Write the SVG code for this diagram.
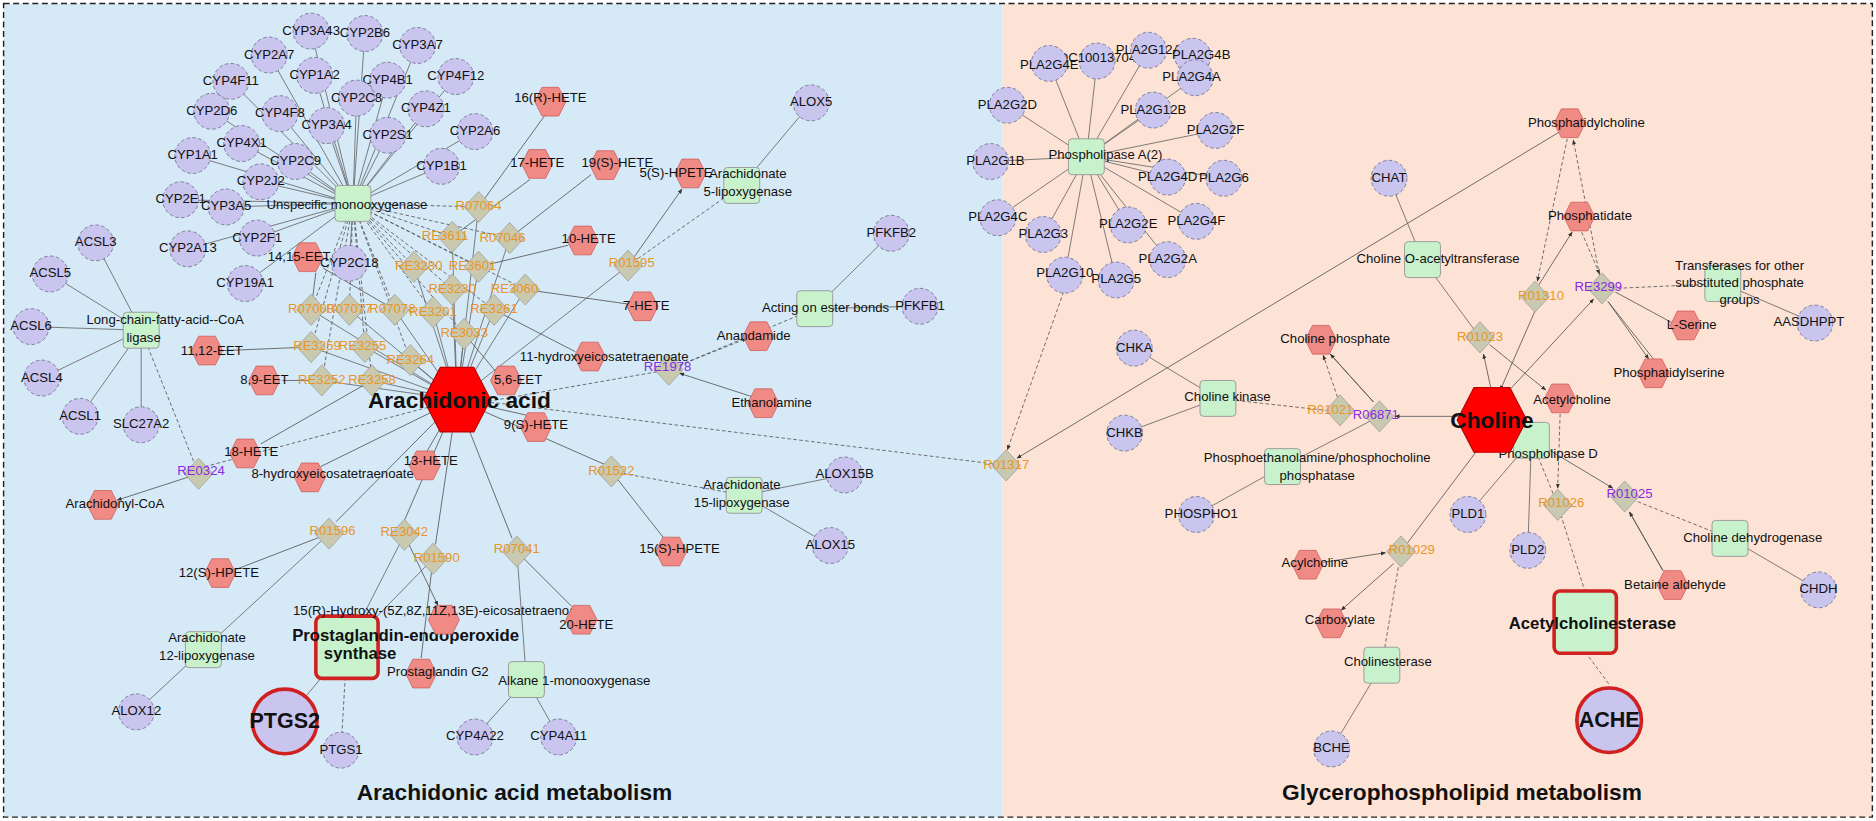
<svg xmlns="http://www.w3.org/2000/svg" width="1876" height="821" viewBox="0 0 1876 821">
<style>
text{font-family:"Liberation Sans",Arial,sans-serif;font-size:11px;fill:#111;text-anchor:middle;dominant-baseline:middle}
.g{fill:#c9c5ee;stroke:#7a7a99;stroke-width:0.8;stroke-dasharray:3 2}
.e{fill:#c8f2cc;stroke:#9a9a9a;stroke-width:0.8}
.d{fill:#c9c9b0;stroke:#999;stroke-width:0.6}
.h{fill:#ef8a84;stroke:#c55;stroke-width:0.6}
.o{fill:#e8962a}
.p{fill:#8a2be2}
.b{font-weight:bold}
.l{stroke:#666;stroke-width:0.7;fill:none}
.a{stroke:#555;stroke-width:0.7;fill:none;marker-end:url(#ar)}
.s{stroke:#555;stroke-width:0.7;stroke-dasharray:3 2;fill:none}
.sa{stroke:#555;stroke-width:0.7;stroke-dasharray:3 2;fill:none;marker-end:url(#ar)}
</style>
<defs>
<marker id="ar" viewBox="0 0 10 10" refX="9" refY="5" markerWidth="6" markerHeight="6" orient="auto"><path d="M0,1L10,5L0,9z" fill="#333"/></marker>
<polygon id="hx" points="-7,-12 7,-12 13,0 7,12 -7,12 -13,0" class="h"/>
<polygon id="dm" points="0,-13 12,0 0,13 -12,0" class="d"/>
<rect id="sq" x="-15" y="-15" width="30" height="30" rx="3" class="e"/>
<circle id="ci" r="15" class="g"/>
</defs>
<g transform="scale(1.1964)">
<rect x="3" y="3" width="835" height="680" fill="#d5e9f7"/>
<rect x="838" y="3" width="727" height="680" fill="#fde3d5"/>
<rect x="3" y="3" width="1562" height="680" fill="none" stroke="#222" stroke-width="1.2" stroke-dasharray="5 3"/>
<text class="b" x="430" y="664" style="font-size:19px">Arachidonic acid metabolism</text>
<text class="b" x="1222" y="664" style="font-size:19px">Glycerophospholipid metabolism</text>

<g id="connectors">
<path class="l" d="M295,170L260,26M295,170L305,28M295,170L349,38M295,170L225,46M295,170L263,63M295,170L193,68M295,170L324,67M295,170L381,64M295,170L298,82M295,170L177,93M295,170L234,95M295,170L356,91M295,170L273,105M295,170L324,113M295,170L397,110M295,170L202,120M295,170L161,130M295,170L247,135M295,170L369,139M295,170L218,152M295,170L151,167M295,170L189,173M295,170L215,199M295,170L157,208M295,170L292,220M295,170L205,237"/>
<path class="s" d="M295,170L400,173M295,170L378,198M295,170L426,199M295,170L346,223M295,170L400,223M295,170L378,242M295,170L439,242M295,170L260,259M295,170L292,259M295,170L330,259M295,170L362,261M295,170L413,259M295,170L388,279M295,170L260,290M295,170L305,290M295,170L343,301M295,170L269,318M295,170L311,318"/>
<path class="l" d="M118,276L80,203M118,276L42,229M118,276L26,273M118,276L35,316M118,276L67,348M118,276L118,355"/>
<path class="s" d="M118,276L166,396"/>
<path class="l" d="M382,334L400,173M382,334L378,198M382,334L426,199M382,334L346,223M382,334L400,223M382,334L378,242M382,334L439,242M382,334L260,259M382,334L292,259M382,334L330,259M382,334L362,261M382,334L413,259M382,334L388,279M382,334L260,290M382,334L305,290M382,334L343,301M382,334L269,318M382,334L311,318M382,334L525,222"/>
<path class="a" d="M400,173L455,97M378,198L443,150M426,199L494,146M400,223L475,205M439,242L524,254M413,259L481,294M388,279L414,310M260,259L264,228M330,259L270,224M260,290L188,293M269,318L236,318M311,318L218,371M382,334L268,390M382,334L357,377M382,334L440,347M525,222L570,158"/>
<path class="s" d="M525,222L620,155"/><path class="l" d="M620,155L678,86"/>
<path class="a" d="M382,334L505,388M511,394L555,450M382,334L281,436M275,446L197,476M382,334L338,435M382,334L364,455M362,467L352,550M382,334L428,450M432,461L478,507M338,447L366,506"/>
<path class="s" d="M511,394L622,414"/><path class="l" d="M622,414L706,397M622,414L694,456M275,446L170,543M170,543L114,595M338,447L290,541M362,467L290,541M290,541L238,603M440,568L432,461M440,568L397,616M440,568L467,616"/><path class="s" d="M290,541L285,627"/>
<path class="sa" d="M382,334L160,393"/><path class="a" d="M166,396L98,418"/>
<path class="sa" d="M559,309L624,283"/><path class="a" d="M630,332L568,312"/><path class="s" d="M559,309L405,336M681,258L559,309"/>
<path class="l" d="M681,258L745,195M681,258L769,256"/>
<path class="s" d="M400,335L841,389"/>
<path class="sa" d="M889,244L842,376"/><path class="a" d="M1304,110L850,383"/>
<path class="l" d="M908,131L877,53M908,131L917,51M908,131L960,42M908,131L999,65M908,131L842,88M908,131L964,92M908,131L1016,109M908,131L828,135M908,131L976,148M908,131L1023,149M908,131L834,182M908,131L872,196M908,131L943,188M908,131L1000,185M908,131L976,217M908,131L890,230M908,131L933,234"/>
<path class="l" d="M1161,149L1189,217M1189,217L1237,282M948,291L1018,333M940,362L1018,333M1072,390L1000,430M1072,390L1153,348M1280,368L1227,430M1280,368L1277,460M1446,450L1520,493M1440,237L1517,270M1155,556L1113,626"/>
<path class="sa" d="M1310,116L1285,235"/><path class="a" d="M1285,240L1314,194"/><path class="sa" d="M1322,194L1337,229"/><path class="sa" d="M1337,230L1315,117"/>
<path class="a" d="M1283,260L1254,326"/><path class="a" d="M1258,330L1332,250"/><path class="a" d="M1398,270L1350,244M1382,300L1344,252M1344,252L1378,300"/><path class="s" d="M1440,237L1351,241"/>
<path class="a" d="M1246,324L1240,296"/><path class="a" d="M1245,288L1292,326"/>
<path class="s" d="M1018,333L1108,343"/><path class="sa" d="M1118,332L1106,297"/><path class="a" d="M1110,294L1148,336M1148,336L1112,296"/><path class="a" d="M1222,348L1166,348"/>
<path class="sa" d="M1304,346L1302,408"/><path class="s" d="M1280,368L1302,422M1325,495L1302,422"/>
<path class="a" d="M1268,360L1348,408"/><path class="a" d="M1362,428L1390,477M1390,477L1362,428"/><path class="s" d="M1446,450L1358,415"/>
<path class="a" d="M1171,461L1238,372"/><path class="a" d="M1106,470L1158,462"/><path class="a" d="M1165,471L1121,510"/><path class="s" d="M1155,556L1171,461"/>
<path class="s" d="M1325,545L1345,572"/>
</g>

<g id="genes-left">
<g><use href="#ci" x="260" y="26"/><text x="260" y="26">CYP3A43</text></g>
<g><use href="#ci" x="305" y="28"/><text x="305" y="28">CYP2B6</text></g>
<g><use href="#ci" x="349" y="38"/><text x="349" y="38">CYP3A7</text></g>
<g><use href="#ci" x="225" y="46"/><text x="225" y="46">CYP2A7</text></g>
<g><use href="#ci" x="263" y="63"/><text x="263" y="63">CYP1A2</text></g>
<g><use href="#ci" x="193" y="68"/><text x="193" y="68">CYP4F11</text></g>
<g><use href="#ci" x="324" y="67"/><text x="324" y="67">CYP4B1</text></g>
<g><use href="#ci" x="381" y="64"/><text x="381" y="64">CYP4F12</text></g>
<g><use href="#ci" x="298" y="82"/><text x="298" y="82">CYP2C8</text></g>
<g><use href="#ci" x="177" y="93"/><text x="177" y="93">CYP2D6</text></g>
<g><use href="#ci" x="234" y="95"/><text x="234" y="95">CYP4F8</text></g>
<g><use href="#ci" x="356" y="91"/><text x="356" y="91">CYP4Z1</text></g>
<g><use href="#ci" x="273" y="105"/><text x="273" y="105">CYP3A4</text></g>
<g><use href="#ci" x="324" y="113"/><text x="324" y="113">CYP2S1</text></g>
<g><use href="#ci" x="397" y="110"/><text x="397" y="110">CYP2A6</text></g>
<g><use href="#ci" x="202" y="120"/><text x="202" y="120">CYP4X1</text></g>
<g><use href="#ci" x="161" y="130"/><text x="161" y="130">CYP1A1</text></g>
<g><use href="#ci" x="247" y="135"/><text x="247" y="135">CYP2C9</text></g>
<g><use href="#ci" x="369" y="139"/><text x="369" y="139">CYP1B1</text></g>
<g><use href="#ci" x="218" y="152"/><text x="218" y="152">CYP2J2</text></g>
<g><use href="#ci" x="151" y="167"/><text x="151" y="167">CYP2E1</text></g>
<g><use href="#ci" x="189" y="173"/><text x="189" y="173">CYP3A5</text></g>
<g><use href="#ci" x="215" y="199"/><text x="215" y="199">CYP2F1</text></g>
<g><use href="#ci" x="157" y="208"/><text x="157" y="208">CYP2A13</text></g>
<g><use href="#ci" x="292" y="220"/><text x="292" y="220">CYP2C18</text></g>
<g><use href="#ci" x="205" y="237"/><text x="205" y="237">CYP19A1</text></g>
<g><use href="#ci" x="80" y="203"/><text x="80" y="203">ACSL3</text></g>
<g><use href="#ci" x="42" y="229"/><text x="42" y="229">ACSL5</text></g>
<g><use href="#ci" x="26" y="273"/><text x="26" y="273">ACSL6</text></g>
<g><use href="#ci" x="35" y="316"/><text x="35" y="316">ACSL4</text></g>
<g><use href="#ci" x="67" y="348"/><text x="67" y="348">ACSL1</text></g>
<g><use href="#ci" x="118" y="355"/><text x="118" y="355">SLC27A2</text></g>
<g><use href="#ci" x="678" y="86"/><text x="678" y="86">ALOX5</text></g>
<g><use href="#ci" x="745" y="195"/><text x="745" y="195">PFKFB2</text></g>
<g><use href="#ci" x="769" y="256"/><text x="769" y="256">PFKFB1</text></g>
<g><use href="#ci" x="706" y="397"/><text x="706" y="397">ALOX15B</text></g>
<g><use href="#ci" x="694" y="456"/><text x="694" y="456">ALOX15</text></g>
<g><use href="#ci" x="114" y="595"/><text x="114" y="595">ALOX12</text></g>
<g><use href="#ci" x="285" y="627"/><text x="285" y="627">PTGS1</text></g>
<g><use href="#ci" x="397" y="616"/><text x="397" y="616">CYP4A22</text></g>
<g><use href="#ci" x="467" y="616"/><text x="467" y="616">CYP4A11</text></g>
<g id="PTGS2"><circle cx="238" cy="603" r="27" fill="#c9c5ee" stroke="#d02020" stroke-width="3"/><text class="b" x="238" y="604" style="font-size:18px">PTGS2</text></g>
</g>

<g id="enzymes-left">
<g><use href="#sq" x="295" y="170"/><text x="290" y="172">Unspecific monooxygenase</text></g>
<g><use href="#sq" x="118" y="276"/><text x="138" y="268">Long-chain-fatty-acid--CoA</text><text x="120" y="283">ligase</text></g>
<g><use href="#sq" x="620" y="155"/><text x="625" y="146">Arachidonate</text><text x="625" y="161">5-lipoxygenase</text></g>
<g><use href="#sq" x="681" y="258"/><text x="690" y="258">Acting on ester bonds</text></g>
<g><use href="#sq" x="622" y="414"/><text x="620" y="406">Arachidonate</text><text x="620" y="421">15-lipoxygenase</text></g>
<g><use href="#sq" x="170" y="543"/><text x="173" y="534">Arachidonate</text><text x="173" y="549">12-lipoxygenase</text></g>
<g><use href="#sq" x="440" y="568"/><text x="480" y="570">Alkane 1-monooxygenase</text></g>
<g id="PGS"><rect x="264" y="515" width="52" height="52" rx="5" fill="#c8f2cc" stroke="#d02020" stroke-width="3"/><text class="b" x="339" y="532" style="font-size:14px">Prostaglandin-endoperoxide</text><text class="b" x="301" y="547" style="font-size:14px">synthase</text></g>
</g>

<g id="reactions-left">
<g><use href="#dm" x="400" y="173"/><text class="o" x="400" y="173">R07064</text></g>
<g><use href="#dm" x="378" y="198"/><text class="o" x="372" y="198">RE3611</text></g>
<g><use href="#dm" x="426" y="199"/><text class="o" x="420" y="199">R07046</text></g>
<g><use href="#dm" x="346" y="223"/><text class="o" x="350" y="223">RE3280</text></g>
<g><use href="#dm" x="400" y="223"/><text class="o" x="395" y="223">RE3601</text></g>
<g><use href="#dm" x="378" y="242"/><text class="o" x="378" y="242">RE3230</text></g>
<g><use href="#dm" x="439" y="242"/><text class="o" x="430" y="242">RE3060</text></g>
<g><use href="#dm" x="260" y="259"/><text class="o" x="260" y="259">R07000</text></g>
<g><use href="#dm" x="292" y="259"/><text class="o" x="292" y="259">R07077</text></g>
<g><use href="#dm" x="330" y="259"/><text class="o" x="328" y="259">R07078</text></g>
<g><use href="#dm" x="362" y="261"/><text class="o" x="362" y="261">RE3201</text></g>
<g><use href="#dm" x="413" y="259"/><text class="o" x="413" y="259">RE3261</text></g>
<g><use href="#dm" x="388" y="279"/><text class="o" x="388" y="279">RE3033</text></g>
<g><use href="#dm" x="260" y="290"/><text class="o" x="265" y="290">RE3259</text></g>
<g><use href="#dm" x="305" y="290"/><text class="o" x="303" y="290">RE3255</text></g>
<g><use href="#dm" x="343" y="301"/><text class="o" x="343" y="301">RE3264</text></g>
<g><use href="#dm" x="269" y="318"/><text class="o" x="269" y="318">RE3252</text></g>
<g><use href="#dm" x="311" y="318"/><text class="o" x="311" y="318">RE3258</text></g>
<g><use href="#dm" x="525" y="222"/><text class="o" x="528" y="220">R01595</text></g>
<g><use href="#dm" x="559" y="309"/><text class="p" x="558" y="307">RE1978</text></g>
<g><use href="#dm" x="166" y="396"/><text class="p" x="168" y="394">RE0324</text></g>
<g><use href="#dm" x="511" y="394"/><text class="o" x="511" y="394">R01522</text></g>
<g><use href="#dm" x="275" y="446"/><text class="o" x="278" y="444">R01596</text></g>
<g><use href="#dm" x="338" y="447"/><text class="o" x="338" y="445">RE3042</text></g>
<g><use href="#dm" x="362" y="467"/><text class="o" x="365" y="467">R01590</text></g>
<g><use href="#dm" x="432" y="461"/><text class="o" x="432" y="459">R07041</text></g>
<g><use href="#dm" x="841" y="389"/><text class="o" x="841" y="389">R01317</text></g>
</g>

<g id="compounds-left">
<g><use href="#hx" x="460" y="85"/><text x="460" y="82">16(R)-HETE</text></g>
<g><use href="#hx" x="449" y="137"/><text x="449" y="137">17-HETE</text></g>
<g><use href="#hx" x="506" y="138"/><text x="516" y="137">19(S)-HETE</text></g>
<g><use href="#hx" x="577" y="145"/><text x="565" y="145">5(S)-HPETE</text></g>
<g><use href="#hx" x="487" y="201"/><text x="492" y="200">10-HETE</text></g>
<g><use href="#hx" x="537" y="256"/><text x="540" y="256">7-HETE</text></g>
<g><use href="#hx" x="634" y="281"/><text x="630" y="281">Anandamide</text></g>
<g><use href="#hx" x="638" y="337"/><text x="645" y="337">Ethanolamine</text></g>
<g><use href="#hx" x="493" y="298"/><text x="505" y="299">11-hydroxyeicosatetraenoate</text></g>
<g><use href="#hx" x="423" y="318"/><text x="433" y="318">5,6-EET</text></g>
<g><use href="#hx" x="448" y="357"/><text x="448" y="356">9(S)-HETE</text></g>
<g><use href="#hx" x="257" y="215"/><text x="250" y="215">14,15-EET</text></g>
<g><use href="#hx" x="173" y="293"/><text x="177" y="294">11,12-EET</text></g>
<g><use href="#hx" x="221" y="318"/><text x="221" y="318">8,9-EET</text></g>
<g><use href="#hx" x="205" y="379"/><text x="210" y="378">18-HETE</text></g>
<g><use href="#hx" x="259" y="399"/><text x="278" y="397">8-hydroxyeicosatetraenoate</text></g>
<g><use href="#hx" x="86" y="422"/><text x="96" y="422">Arachidonyl-CoA</text></g>
<g><use href="#hx" x="355" y="389"/><text x="360" y="386">13-HETE</text></g>
<g><use href="#hx" x="561" y="461"/><text x="568" y="459">15(S)-HPETE</text></g>
<g><use href="#hx" x="184" y="479"/><text x="183" y="479">12(S)-HPETE</text></g>
<g><use href="#hx" x="371" y="518"/><text x="368" y="511">15(R)-Hydroxy-(5Z,8Z,11Z,13E)-eicosatetraenoate</text></g>
<g><use href="#hx" x="486" y="518"/><text x="490" y="523">20-HETE</text></g>
<g><use href="#hx" x="352" y="563"/><text x="366" y="562">Prostaglandin G2</text></g>
<g id="AA"><polygon points="368,307 396,307 410,334 396,361 368,361 354,334" fill="#ff0000" stroke="#b00" stroke-width="1"/><text class="b" x="384" y="336" style="font-size:19px">Arachidonic acid</text></g>
</g>

<g id="genes-right">
<g><use href="#ci" x="917" y="51"/><text x="917" y="49">LOC100137049</text></g>
<g><use href="#ci" x="877" y="53"/><text x="877" y="55">PLA2G4E</text></g>
<g><use href="#ci" x="960" y="42"/><text x="960" y="42">PLA2G12A</text></g>
<g><use href="#ci" x="997" y="47"/><text x="1004" y="46">PLA2G4B</text></g>
<g><use href="#ci" x="999" y="65"/><text x="996" y="65">PLA2G4A</text></g>
<g><use href="#ci" x="842" y="88"/><text x="842" y="88">PLA2G2D</text></g>
<g><use href="#ci" x="964" y="92"/><text x="964" y="92">PLA2G12B</text></g>
<g><use href="#ci" x="1016" y="109"/><text x="1016" y="109">PLA2G2F</text></g>
<g><use href="#ci" x="828" y="135"/><text x="832" y="135">PLA2G1B</text></g>
<g><use href="#ci" x="976" y="148"/><text x="976" y="148">PLA2G4D</text></g>
<g><use href="#ci" x="1023" y="149"/><text x="1023" y="149">PLA2G6</text></g>
<g><use href="#ci" x="834" y="182"/><text x="834" y="182">PLA2G4C</text></g>
<g><use href="#ci" x="872" y="196"/><text x="872" y="196">PLA2G3</text></g>
<g><use href="#ci" x="943" y="188"/><text x="943" y="188">PLA2G2E</text></g>
<g><use href="#ci" x="1000" y="185"/><text x="1000" y="185">PLA2G4F</text></g>
<g><use href="#ci" x="976" y="217"/><text x="976" y="217">PLA2G2A</text></g>
<g><use href="#ci" x="890" y="230"/><text x="890" y="229">PLA2G10</text></g>
<g><use href="#ci" x="933" y="234"/><text x="933" y="234">PLA2G5</text></g>
<g><use href="#ci" x="1161" y="149"/><text x="1161" y="149">CHAT</text></g>
<g><use href="#ci" x="948" y="291"/><text x="948" y="291">CHKA</text></g>
<g><use href="#ci" x="940" y="362"/><text x="940" y="362">CHKB</text></g>
<g><use href="#ci" x="1000" y="430"/><text x="1004" y="430">PHOSPHO1</text></g>
<g><use href="#ci" x="1227" y="430"/><text x="1227" y="430">PLD1</text></g>
<g><use href="#ci" x="1277" y="460"/><text x="1277" y="460">PLD2</text></g>
<g><use href="#ci" x="1517" y="270"/><text x="1512" y="270">AASDHPPT</text></g>
<g><use href="#ci" x="1520" y="493"/><text x="1520" y="493">CHDH</text></g>
<g><use href="#ci" x="1113" y="626"/><text x="1113" y="626">BCHE</text></g>
<g id="ACHE"><circle cx="1345" cy="602" r="27" fill="#c9c5ee" stroke="#d02020" stroke-width="3"/><text class="b" x="1345" y="603" style="font-size:18px">ACHE</text></g>
</g>

<g id="enzymes-right">
<g><use href="#sq" x="908" y="131"/><text x="924" y="130">Phospholipase A(2)</text></g>
<g><use href="#sq" x="1189" y="217"/><text x="1202" y="217">Choline O-acetyltransferase</text></g>
<g><use href="#sq" x="1440" y="237"/><text x="1454" y="223">Transferases for other</text><text x="1454" y="237">substituted phosphate</text><text x="1454" y="251">groups</text></g>
<g><use href="#sq" x="1018" y="333"/><text x="1026" y="332">Choline kinase</text></g>
<g><use href="#sq" x="1072" y="390"/><text x="1101" y="383">Phosphoethanolamine/phosphocholine</text><text x="1101" y="398">phosphatase</text></g>
<g><use href="#sq" x="1280" y="368"/><text x="1294" y="380">Phospholipase D</text></g>
<g><use href="#sq" x="1446" y="450"/><text x="1465" y="450">Choline dehydrogenase</text></g>
<g><use href="#sq" x="1155" y="556"/><text x="1160" y="554">Cholinesterase</text></g>
<g id="AChE"><rect x="1299" y="494" width="52" height="52" rx="5" fill="#c8f2cc" stroke="#d02020" stroke-width="3"/><text class="b" x="1331" y="522" style="font-size:14px">Acetylcholinesterase</text></g>
</g>

<g id="reactions-right">
<g><use href="#dm" x="1283" y="248"/><text class="o" x="1288" y="248">R01310</text></g>
<g><use href="#dm" x="1339" y="241"/><text class="p" x="1336" y="240">RE3299</text></g>
<g><use href="#dm" x="1237" y="282"/><text class="o" x="1237" y="282">R01023</text></g>
<g><use href="#dm" x="1120" y="343"/><text class="o" x="1112" y="343">R01021</text></g>
<g><use href="#dm" x="1153" y="348"/><text class="p" x="1150" y="347">R06871</text></g>
<g><use href="#dm" x="1302" y="422"/><text class="o" x="1305" y="421">R01026</text></g>
<g><use href="#dm" x="1358" y="415"/><text class="p" x="1362" y="413">R01025</text></g>
<g><use href="#dm" x="1171" y="461"/><text class="o" x="1180" y="460">R01029</text></g>
</g>

<g id="compounds-right">
<g><use href="#hx" x="1312" y="103"/><text x="1326" y="103">Phosphatidylcholine</text></g>
<g><use href="#hx" x="1320" y="181"/><text x="1329" y="181">Phosphatidate</text></g>
<g><use href="#hx" x="1409" y="272"/><text x="1414" y="272">L-Serine</text></g>
<g><use href="#hx" x="1382" y="312"/><text x="1395" y="312">Phosphatidylserine</text></g>
<g><use href="#hx" x="1104" y="284"/><text x="1116" y="284">Choline phosphate</text></g>
<g><use href="#hx" x="1304" y="333"/><text x="1314" y="335">Acetylcholine</text></g>
<g><use href="#hx" x="1398" y="489"/><text x="1400" y="489">Betaine aldehyde</text></g>
<g><use href="#hx" x="1093" y="472"/><text x="1099" y="471">Acylcholine</text></g>
<g><use href="#hx" x="1113" y="521"/><text x="1120" y="519">Carboxylate</text></g>
<g id="Choline"><polygon points="1232,324 1262,324 1276,351 1262,378 1232,378 1218,351" fill="#ff0000" stroke="#b00" stroke-width="1"/><text class="b" x="1247" y="353" style="font-size:19px">Choline</text></g>
</g>
</g>
</svg>
